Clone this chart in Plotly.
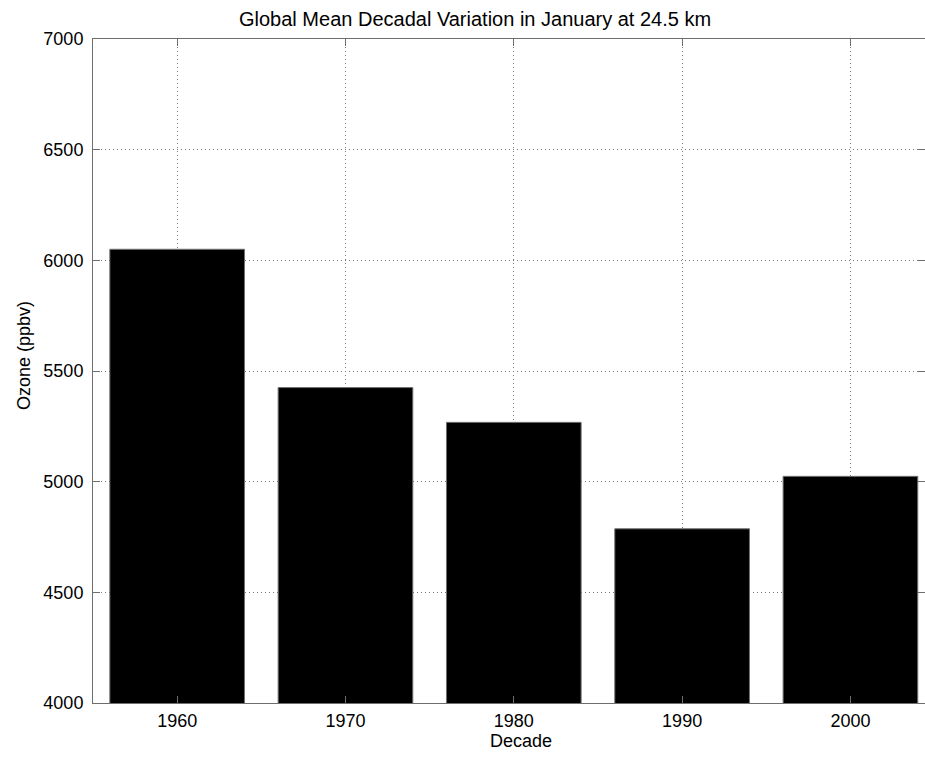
import plotly.graph_objects as go

# Decadal mean ozone at 24.5 km, January
decades = [1960, 1970, 1980, 1990, 2000]
ozone_ppbv = [6050, 5425, 5268, 4787, 5024]
y_ticks = [4000, 4500, 5000, 5500, 6000, 6500, 7000]

FONT = "Liberation Sans, Arial, sans-serif"
AXIS_COLOR = "#6e6e6e"
GRID_COLOR = "#7a7a7a"

fig = go.Figure(
    go.Bar(
        x=decades,
        y=ozone_ppbv,
        width=8,
        marker=dict(color="black", line=dict(color="#707070", width=1)),
    )
)

axis_common = dict(
    showline=True,
    linecolor=AXIS_COLOR,
    linewidth=1,
    mirror="ticks",
    ticks="inside",
    ticklen=7,
    tickcolor=AXIS_COLOR,
    showgrid=True,
    gridcolor=GRID_COLOR,
    griddash="1px,3px",
    gridwidth=1,
    zeroline=False,
    tickfont=dict(family=FONT, size=18, color="black"),
)

fig.update_xaxes(
    range=[1955, 2004.43],
    tickvals=decades,
    ticktext=[str(d) for d in decades],
    ticklabelstandoff=1,
    **axis_common,
)
fig.update_yaxes(
    range=[4000, 7000],
    tickvals=y_ticks,
    ticklabelstandoff=5,
    **axis_common,
)

fig.update_layout(
    width=925,
    height=757,
    margin=dict(l=93, r=0, t=39, b=54),
    plot_bgcolor="white",
    paper_bgcolor="white",
    showlegend=False,
    bargap=0.2,
    font=dict(family=FONT, color="black"),
    annotations=[
        dict(
            text="Global Mean Decadal Variation in January at 24.5 km",
            xref="paper", yref="paper", x=0.459, y=1.03,
            xanchor="center", yanchor="middle", showarrow=False,
            font=dict(family=FONT, size=20, color="black"),
        ),
        dict(
            text="Decade",
            xref="paper", yref="paper", x=0.514, y=-0.057,
            xanchor="center", yanchor="middle", showarrow=False,
            font=dict(family=FONT, size=18, color="black"),
        ),
        dict(
            text="Ozone (ppbv)",
            xref="paper", yref="paper", x=-0.083, y=0.524,
            xanchor="center", yanchor="middle", showarrow=False, textangle=-90,
            font=dict(family=FONT, size=18, color="black"),
        ),
    ],
)

fig.write_html("out.html")
